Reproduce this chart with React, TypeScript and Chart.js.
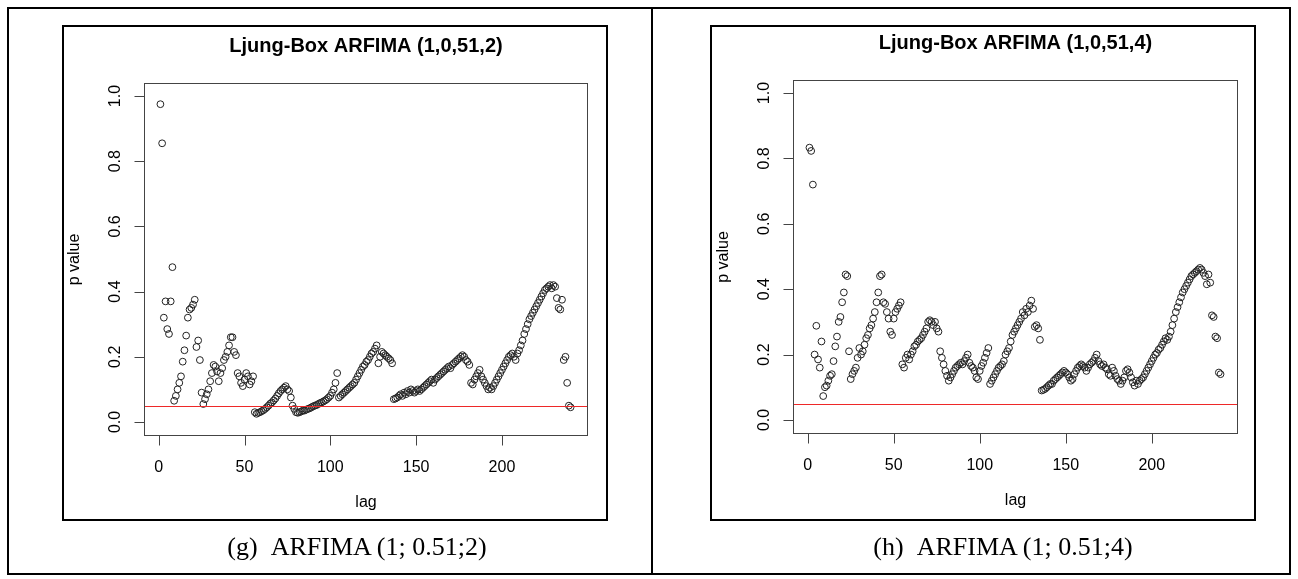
import React, { useEffect, useRef } from "react";
import { Chart, registerables } from "chart.js";

Chart.register(...registerables);

// ---- data ----
const LAG_COUNT = 240;
const lags: number[] = Array.from({ length: LAG_COUNT }, (_, i) => i + 1);
const xTicks = [0, 50, 100, 150, 200];
const yTicks = [0, 0.2, 0.4, 0.6, 0.8, 1.0];
const yTickLabels = ["0.0", "0.2", "0.4", "0.6", "0.8", "1.0"];
const threshold = 0.05;
const titleG = "Ljung-Box ARFIMA (1,0,51,2)";
const titleH = "Ljung-Box ARFIMA (1,0,51,4)";
const captionG = "(g)\u00a0\u00a0ARFIMA (1; 0.51;2)";
const captionH = "(h)\u00a0\u00a0ARFIMA (1; 0.51;4)";

const pValuesG: number[] = [
  // 1-8
  0.975, 0.855, 0.32, 0.37, 0.285, 0.27, 0.37, 0.475,
  // 9-21
  0.065, 0.08, 0.1, 0.12, 0.14, 0.185, 0.22, 0.265, 0.32, 0.345, 0.35, 0.36, 0.375,
  // 22-24
  0.23, 0.25, 0.19,
  // 25-45
  0.09, 0.055, 0.07, 0.085, 0.1, 0.125, 0.15, 0.175, 0.17, 0.155, 0.125, 0.15, 0.165, 0.19, 0.2, 0.215, 0.235, 0.26, 0.26, 0.215, 0.205,
  // 46-55
  0.15, 0.14, 0.12, 0.11, 0.13, 0.15, 0.14, 0.115, 0.125, 0.14,
  // 56-80
  0.03, 0.025, 0.028, 0.03, 0.033, 0.036, 0.04, 0.045, 0.05, 0.056, 0.06, 0.066, 0.072, 0.08, 0.088, 0.095, 0.1, 0.105, 0.11, 0.1, 0.095, 0.075, 0.05, 0.04, 0.03,
  // 81-104
  0.028, 0.03, 0.032, 0.035, 0.035, 0.038, 0.04, 0.042, 0.045, 0.048, 0.05, 0.052, 0.055, 0.058, 0.06, 0.063, 0.066, 0.07, 0.075, 0.08, 0.09, 0.1, 0.12, 0.15,
  // 105-127
  0.075, 0.08, 0.085, 0.09, 0.095, 0.1, 0.105, 0.11, 0.115, 0.12, 0.13, 0.14, 0.15, 0.16, 0.17, 0.175, 0.185, 0.19, 0.2, 0.21, 0.215, 0.225, 0.235,
  // 128-136
  0.18, 0.2, 0.215, 0.21, 0.205, 0.2, 0.195, 0.19, 0.18,
  // 137-160
  0.07, 0.072, 0.075, 0.08, 0.085, 0.08, 0.09, 0.085, 0.095, 0.09, 0.1, 0.095, 0.09, 0.095, 0.1, 0.095, 0.1, 0.105, 0.11, 0.115, 0.12, 0.125, 0.13, 0.12,
  // 161-181
  0.13, 0.135, 0.14, 0.145, 0.15, 0.155, 0.16, 0.165, 0.17, 0.165, 0.175, 0.18, 0.185, 0.19, 0.195, 0.2, 0.205, 0.2, 0.19, 0.185, 0.175,
  // 182-193
  0.12, 0.115, 0.13, 0.14, 0.15, 0.16, 0.14, 0.13, 0.12, 0.11, 0.1, 0.105,
  // 194-231
  0.1, 0.11, 0.12, 0.13, 0.14, 0.15, 0.16, 0.17, 0.18, 0.19, 0.2, 0.205, 0.21, 0.2, 0.19, 0.21, 0.22, 0.235, 0.25, 0.27,
  0.285, 0.3, 0.315, 0.325, 0.335, 0.345, 0.355, 0.365, 0.375, 0.385, 0.395, 0.405, 0.41, 0.415, 0.42, 0.41, 0.42, 0.415,
  // 232-240
  0.38, 0.35, 0.345, 0.375, 0.19, 0.2, 0.12, 0.05, 0.045,
];

const pValuesH: number[] = [
  // 1-10
  0.833, 0.823, 0.72, 0.2, 0.288, 0.185, 0.16, 0.24, 0.073, 0.1,
  // 11-23
  0.105, 0.12, 0.135, 0.14, 0.18, 0.225, 0.255, 0.3, 0.315, 0.36, 0.39, 0.445, 0.44,
  // 24-29
  0.21, 0.125, 0.14, 0.15, 0.16, 0.19,
  // 30-43
  0.22, 0.2, 0.21, 0.23, 0.25, 0.26, 0.28, 0.29, 0.31, 0.33, 0.36, 0.39, 0.44, 0.445,
  // 44-54
  0.36, 0.355, 0.33, 0.31, 0.27, 0.26, 0.31, 0.33, 0.34, 0.35, 0.36,
  // 55-76
  0.17, 0.16, 0.19, 0.2, 0.185, 0.2, 0.21, 0.225, 0.23, 0.24, 0.245, 0.25, 0.26, 0.27, 0.28, 0.3, 0.305, 0.3, 0.29, 0.3, 0.28, 0.27,
  // 77-82
  0.21, 0.19, 0.17, 0.15, 0.135, 0.12,
  // 83-105
  0.13, 0.14, 0.15, 0.16, 0.165, 0.17, 0.175, 0.17, 0.18, 0.19, 0.2, 0.175, 0.165, 0.16, 0.15, 0.13, 0.125, 0.15, 0.165, 0.175, 0.19, 0.205, 0.22,
  // 106-129
  0.11, 0.12, 0.13, 0.14, 0.15, 0.16, 0.165, 0.17, 0.18, 0.2, 0.21, 0.22, 0.24, 0.26, 0.27, 0.28, 0.29, 0.3, 0.31, 0.33, 0.32, 0.34, 0.33, 0.35,
  // 130-135
  0.365, 0.34, 0.285, 0.29, 0.28, 0.245,
  // 136-192
  0.09, 0.092, 0.095, 0.1, 0.105, 0.11, 0.11, 0.12, 0.125, 0.13,
  0.135, 0.14, 0.145, 0.15, 0.145, 0.14, 0.13, 0.12, 0.125, 0.14,
  0.15, 0.16, 0.165, 0.17, 0.165, 0.16, 0.15, 0.16, 0.17, 0.175,
  0.18, 0.19, 0.2, 0.18, 0.17, 0.165, 0.17, 0.16, 0.155, 0.14,
  0.135, 0.16, 0.15, 0.135, 0.125, 0.12, 0.11, 0.12, 0.13, 0.15,
  0.155, 0.145, 0.13, 0.115, 0.105, 0.12, 0.11,
  // 193-231
  0.12, 0.125, 0.13, 0.14, 0.15, 0.16, 0.17, 0.18, 0.19, 0.2,
  0.205, 0.215, 0.22, 0.23, 0.24, 0.25, 0.245, 0.255, 0.27, 0.29,
  0.31, 0.33, 0.345, 0.36, 0.375, 0.39, 0.4, 0.41, 0.42, 0.43,
  0.44, 0.445, 0.45, 0.455, 0.46, 0.465, 0.46, 0.45, 0.44,
  // 232-240
  0.415, 0.445, 0.42, 0.32, 0.315, 0.255, 0.25, 0.145, 0.14,
];

// R-style axis ranges (4% extension), y limits 0..1
const X_MIN = 1 - 0.04 * (LAG_COUNT - 1);
const X_MAX = LAG_COUNT + 0.04 * (LAG_COUNT - 1);
const Y_MIN = -0.04;
const Y_MAX = 1.04;

const SANS = "'Liberation Sans', Arial, sans-serif";
const SERIF = "'Liberation Serif', 'Times New Roman', serif";

const rPlotPlugin = {
  id: "rplot",
  afterDatasetsDraw(chart: any) {
    // abline(h = 0.05, col = "red"), snapped to the pixel grid
    const { ctx, chartArea: a } = chart;
    const py = Math.round(chart.scales.y.getPixelForValue(threshold)) + 0.5;
    ctx.save();
    ctx.strokeStyle = "rgb(238,40,40)";
    ctx.lineWidth = 1;
    ctx.beginPath();
    ctx.moveTo(a.left, py);
    ctx.lineTo(a.right, py);
    ctx.stroke();
    ctx.restore();
  },
  afterDraw(chart: any, _args: any, opts: any) {
    const { ctx, chartArea: a } = chart;
    const xs = chart.scales.x;
    const ys = chart.scales.y;
    const L = Math.round(a.left) + 0.5;
    const T = Math.round(a.top) + 0.5;
    const R = Math.round(a.right) + 0.5;
    const B = Math.round(a.bottom) + 0.5;
    ctx.save();
    ctx.strokeStyle = "#444";
    ctx.lineWidth = 1;
    ctx.strokeRect(L, T, R - L, B - T);
    const tickLen = 10;
    ctx.beginPath();
    xTicks.forEach((v) => {
      const px = Math.round(xs.getPixelForValue(v)) + 0.5;
      ctx.moveTo(px, B);
      ctx.lineTo(px, B + tickLen);
    });
    yTicks.forEach((v) => {
      const py = Math.round(ys.getPixelForValue(v)) + 0.5;
      ctx.moveTo(L, py);
      ctx.lineTo(L - tickLen, py);
    });
    ctx.stroke();

    ctx.fillStyle = "#000";
    ctx.font = `16px ${SANS}`;
    ctx.textAlign = "center";
    ctx.textBaseline = "middle";
    xTicks.forEach((v) => {
      ctx.fillText(String(v), xs.getPixelForValue(v), B + opts.xLabelOffset);
    });
    yTicks.forEach((v, i) => {
      ctx.save();
      ctx.translate(L - opts.yLabelOffset, ys.getPixelForValue(v));
      ctx.rotate(-Math.PI / 2);
      ctx.fillText(yTickLabels[i], 0, 0);
      ctx.restore();
    });
    // axis titles
    ctx.fillText("lag", (L + R) / 2, B + opts.xTitleOffset);
    ctx.save();
    ctx.translate(L - opts.yTitleOffset, (T + B) / 2);
    ctx.rotate(-Math.PI / 2);
    ctx.fillText("p value", 0, 0);
    ctx.restore();
    // main title
    ctx.font = `bold 20px ${SANS}`;
    ctx.fillText(opts.title, (L + R) / 2, T - opts.titleOffset);
    ctx.restore();
  },
};

type Pad = { left: number; top: number; right: number; bottom: number };

function LjungBoxChart(props: {
  title: string;
  values: number[];
  left: number;
  top: number;
  width: number;
  height: number;
  pad: Pad;
}) {
  const ref = useRef<HTMLCanvasElement>(null);
  const { title, values, left, top, width, height, pad } = props;
  useEffect(() => {
    const chart = new Chart(ref.current as HTMLCanvasElement, {
      type: "scatter",
      data: {
        datasets: [
          {
            data: lags.map((l, i) => ({ x: l, y: values[i] })),
            backgroundColor: "rgba(0,0,0,0)",
            borderColor: "#222",
            borderWidth: 1,
            pointRadius: 3.4,
            pointHoverRadius: 3.4,
          },
        ],
      },
      options: {
        responsive: false,
        animation: false,
        events: [],
        layout: { padding: pad },
        scales: {
          x: { type: "linear", min: X_MIN, max: X_MAX, display: false },
          y: { type: "linear", min: Y_MIN, max: Y_MAX, display: false },
        },
        plugins: {
          legend: { display: false },
          tooltip: { enabled: false },
          rplot: {
            title,
            xLabelOffset: 32,
            xTitleOffset: 67,
            yLabelOffset: 29,
            yTitleOffset: 70,
            titleOffset: 37,
          },
        } as any,
      },
      plugins: [rPlotPlugin],
    });
    return () => chart.destroy();
  }, []);
  return (
    <canvas
      ref={ref}
      width={width}
      height={height}
      style={{ position: "absolute", left, top, width, height }}
    />
  );
}

const box = (l: number, t: number, w: number, h: number, bw: number): React.CSSProperties => ({
  position: "absolute",
  left: l,
  top: t,
  width: w,
  height: h,
  border: `${bw}px solid #000`,
  boxSizing: "border-box",
  pointerEvents: "none",
});

const captionStyle = (left: number): React.CSSProperties => ({
  position: "absolute",
  left,
  top: 532,
  width: 340,
  textAlign: "center",
  font: `26px ${SERIF}`,
  whiteSpace: "nowrap",
});

export default function App() {
  return (
    <div
      style={{
        position: "absolute",
        left: 0,
        top: 0,
        width: 1298,
        height: 579,
        background: "#fff",
        overflow: "hidden",
      }}
    >
      <LjungBoxChart
        title={titleG}
        values={pValuesG}
        left={62}
        top={25}
        width={546}
        height={496}
        pad={{ left: 82, top: 58, right: 21, bottom: 86 }}
      />
      <LjungBoxChart
        title={titleH}
        values={pValuesH}
        left={710}
        top={25}
        width={546}
        height={496}
        pad={{ left: 83, top: 55, right: 19, bottom: 88 }}
      />
      {/* figure frames */}
      <div style={box(62, 25, 546, 496, 2)} />
      <div style={box(710, 25, 546, 496, 2)} />
      {/* table borders */}
      <div style={box(7, 7, 1284, 568, 2)} />
      <div style={{ position: "absolute", left: 651, top: 7, width: 2, height: 568, background: "#000" }} />
      {/* captions */}
      <div style={captionStyle(187)}>{captionG}</div>
      <div style={captionStyle(833)}>{captionH}</div>
    </div>
  );
}
